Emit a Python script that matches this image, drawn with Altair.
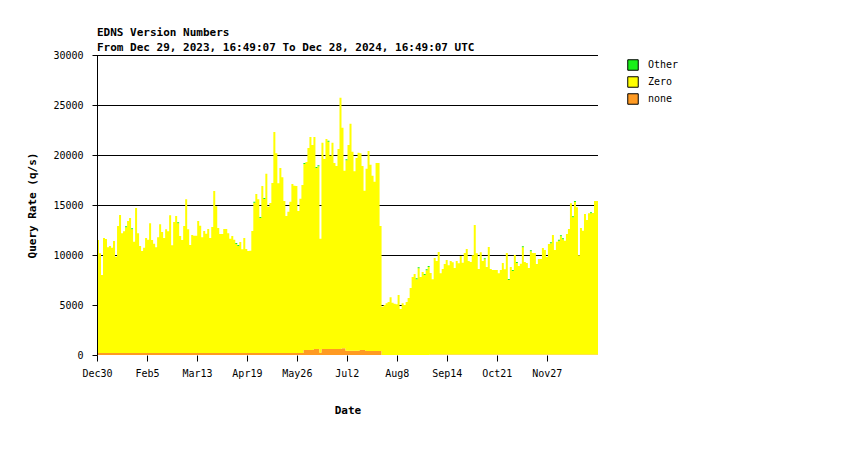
import altair as alt
import pandas as pd

# ---- data (one value per ~1.48 days) ----
start_date = "2023-12-30"
end_date = "2025-01-04"

zero_top = [
    11500, 10170, 8000, 11700, 11600, 10770, 10900, 10730, 11400, 9830,
    12900, 14000, 12170, 12370, 12770, 13400, 13700, 12570, 11330, 14700,
    12170, 10900, 10400, 10730, 11700, 11530, 13170, 11500, 11130, 10770,
    11770, 13070, 12300, 11700, 12570, 12370, 13970, 10970, 13300, 13900,
    13170, 11900, 11500, 12900, 15570, 12570, 11000, 12000, 11930,
    11930, 13400, 12930, 11770, 12400, 12130, 12600, 11700, 12800, 16400,
    14870, 12700, 12100, 12100, 12600, 12600, 12170, 11630, 11900, 11530,
    11100, 10900, 11300, 10570, 11700, 10600, 10400, 10430, 12400, 15230,
    16100, 15570, 13700, 16900, 15600, 18130, 14830, 15200, 17200, 22300,
    20170, 17170, 18700, 17770, 15400, 13900, 14330, 15330, 17100, 16930,
    16900, 14400, 15630, 17000, 19100, 19300, 20700, 21800, 21000, 21800,
    18700, 18870, 11630, 21230, 19600, 21600, 21330, 19930, 21230, 19200,
    18900, 20600, 25730, 22730, 18430, 19470, 21000, 23130, 20330, 18370,
    19700, 20230, 20170, 18900, 16430, 18630, 20400, 19030, 17930, 17330,
    19200, 19200, 12900, 4830, 5000, 5170, 5300, 5770, 5230, 5130,
    5070, 6000, 4600, 5170, 5000, 5300, 5700, 6700, 7800, 8100,
    7570, 8670, 7800, 8300, 8000, 8470, 8800, 8200, 7570, 9700,
    9400, 10300, 8170, 8600, 9100, 9500, 8970, 9400, 9270, 8700,
    9400, 9170, 9900, 9230, 10200, 10600, 9400, 9300, 9970, 13000,
    10170, 8600, 10270, 9400, 9570, 8800, 10800, 8600, 8500, 8500,
    8500, 8170, 8500, 9200, 8570, 10200, 7500, 8800, 8400, 10000,
    9200, 8900, 9130, 10770, 9300, 9200, 8700, 10370, 10200, 10200,
    9100, 9600, 9600, 10700, 10500, 9800, 11100, 11170, 12000, 10500,
    11330, 11430, 11870, 11570, 11430, 12100, 12600, 15170, 13770, 15300,
    14770, 9970, 12700, 12430, 14100, 13500, 14170, 14170, 14200, 15400,
    15400,
]

none_rate = (
    [200] * 103
    + [500] * 5 + [600] * 3 + [230] + [600] * 10 + [670] * 2
    + [430] * 7 + [500] * 3 + [400] * 8
    + [0] * 24
    + [50] * 84
)

other_idx = [14, 17, 40, 69, 70, 78, 81, 83, 103, 109, 110, 115, 124,
             159, 160, 163, 164, 165, 193, 205, 207, 209, 212, 216, 226,
             230, 231, 232, 237, 238, 246]
other_rate = [100 if i in other_idx else 0 for i in range(len(zero_top))]

series_names = ["Other", "Zero", "none"]
series_colors = ["#18f018", "#ffff00", "#ff9a22"]

grid_values = [5000, 10000, 15000, 20000, 25000, 30000]
tick_dates = [(2023, 12, 30), (2024, 2, 5), (2024, 3, 13), (2024, 4, 19),
              (2024, 5, 26), (2024, 7, 2), (2024, 8, 8), (2024, 9, 14),
              (2024, 10, 21), (2024, 11, 27)]

# ---- build long table (stack: none bottom, Zero middle, Other top) ----
n = len(zero_top)
dates = pd.date_range(start_date, end_date, periods=n + 1)
rows = []
for i in range(n + 1):
    k = min(i, n - 1)
    nv, tv, ov = none_rate[k], zero_top[k], other_rate[k]
    rows.append({"date": dates[i], "series": "none", "y0": 0, "y1": nv})
    rows.append({"date": dates[i], "series": "Zero", "y0": nv, "y1": tv})
    rows.append({"date": dates[i], "series": "Other", "y0": tv, "y1": tv + ov})
df = pd.DataFrame(rows)

FONT = "DejaVu Sans Mono"

x_scale = alt.Scale(domain=[alt.DateTime(year=2023, month=12, date=30),
                            alt.DateTime(year=2025, month=1, date=4)])
y_scale = alt.Scale(domain=[0, 30000])

grid = alt.Chart(pd.DataFrame({"v": grid_values})).mark_rule(
    color="black", strokeWidth=1, yOffset=0.5
).encode(y=alt.Y("v:Q", scale=y_scale))

area = alt.Chart(df).mark_area(interpolate="step-after").encode(
    x=alt.X("date:T", scale=x_scale, title="Date",
            axis=alt.Axis(values=[alt.DateTime(year=y, month=m, date=d) for y, m, d in tick_dates],
                          format="%b%-d", labelFont=FONT, labelFontSize=10,
                          labelColor="black", tickColor="black", tickSize=6,
                          labelAlign="center", labelFlush=False,
                          labelPadding=7, domain=False, grid=False, zindex=1,
                          titleFont=FONT, titleFontSize=11, titleFontWeight="bold",
                          titleColor="black", titleY=55, titleBaseline="middle")),
    y=alt.Y("y1:Q", scale=y_scale, title="Query Rate (q/s)",
            axis=alt.Axis(values=[0] + grid_values, format="d",
                          labelFont=FONT, labelFontSize=10,
                          labelColor="black", tickColor="black", tickSize=5,
                          labelPadding=9, domainColor="black", grid=False, zindex=1,
                          titleFont=FONT, titleFontSize=11, titleFontWeight="bold",
                          titleColor="black", titleX=-65, titleY=150,
                          titleBaseline="middle")),
    y2="y0:Q",
    color=alt.Color("series:N",
                    scale=alt.Scale(domain=series_names, range=series_colors),
                    legend=alt.Legend(title=None, orient="none", legendX=530, legendY=4,
                                      symbolType="square", symbolSize=110,
                                      symbolStrokeColor="black", symbolStrokeWidth=1,
                                      labelFont=FONT, labelFontSize=10,
                                      labelColor="black", rowPadding=1,
                                      labelOffset=9)),
)

chart = alt.layer(grid, area).properties(
    width=501, height=300,
    background="white",
    autosize=alt.AutoSizeParams(type="none"),
    padding={"left": 89, "top": 47, "right": 244, "bottom": 87},
    title=alt.TitleParams(
        text=["EDNS Version Numbers",
              "From Dec 29, 2023, 16:49:07 To Dec 28, 2024, 16:49:07 UTC"],
        anchor="start", frame="group", font=FONT, fontSize=11, fontWeight="bold",
        color="black", lineHeight=15, offset=-3),
).configure_view(stroke=None)

chart.save("out.html", embed_options={"renderer": "svg", "actions": False})
